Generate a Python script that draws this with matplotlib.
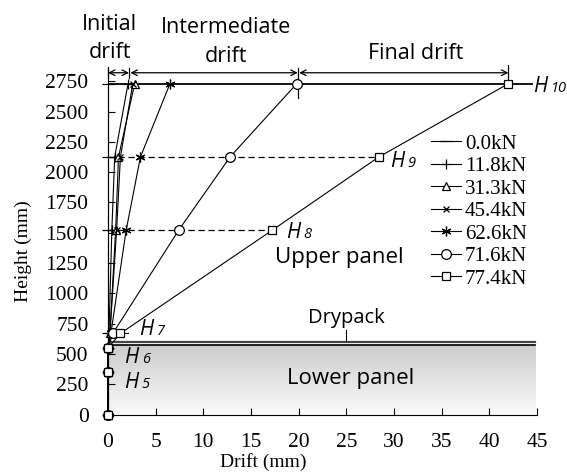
import numpy as np
import matplotlib
matplotlib.use("Agg")
import matplotlib.pyplot as plt

# measured heights of the LVDTs (mm) and drift at each height (mm)
heights = [0, 350, 550, 670, 1520, 2125, 2730]
loads = ['0.0kN', '11.8kN', '31.3kN', '45.4kN', '62.6kN', '71.6kN', '77.4kN']
drift_00 = [0, 0, 0, 0, 0, 0, 0]
drift_118 = [0, 0, 0, 0.1, 0.4, 0.7, 2.1]
drift_313 = [0, 0, 0, 0.2, 0.8, 1.1, 2.8]
drift_454 = [0, 0, 0, 0.2, 0.9, 1.3, 2.6]
drift_626 = [0, 0, 0, 0.3, 1.9, 3.4, 6.5]
drift_716 = [0, 0, 0, 0.5, 7.4, 12.8, 19.8]
drift_774 = [0, 0, 0, 1.3, 17.2, 28.4, 42.0]
all_drifts = [drift_00, drift_118, drift_313, drift_454, drift_626, drift_716, drift_774]
markers = ['_', '+', '^', 'x', (6, 2, 0), 'o', 's']
msizes = [8, 7, 6, 5, 7, 7, 6]

# drift stage boundaries (mm)
stage_edges = [0, 2.2, 19.9, 42.0]

serif = 'Liberation Serif'
sans = 'Open Sans'

fig = plt.figure(figsize=(5.67, 4.73), dpi=100)
ax = fig.add_axes([0.1905, 0.1233, 0.7566, 0.7357])

# lower panel with shading (dark at top, light at bottom)
grad = np.linspace(0.8, 0.98, 100).reshape(-1, 1)
ax.imshow(grad, extent=[0, 44.8, 0, 575], origin='upper', cmap='gray',
          vmin=0, vmax=1, aspect='auto', zorder=0)
ax.plot([0, 44.8], [602, 602], color='#444444', lw=1.6, zorder=1)
ax.plot([0, 44.8], [578, 578], color='black', lw=1.2, zorder=1)
ax.plot([25, 25], [605, 700], color='black', lw=0.8)
ax.text(25, 715, 'Drypack', family=sans, fontsize=14.5, ha='center', va='bottom')
ax.text(25.4, 300, 'Lower panel', family=sans, fontsize=16, ha='center', va='center')
ax.text(24.3, 1300, 'Upper panel', family=sans, fontsize=16, ha='center', va='center')

# helper lines at the LVDT levels
ax.plot([0, 44.5], [heights[6], heights[6]], color='black', lw=1.3, zorder=2)
ax.plot([0, drift_774[5]], [heights[5], heights[5]], color='black', lw=0.9,
        ls=(0, (5, 3)), zorder=2)
ax.plot([0, drift_774[4]], [heights[4], heights[4]], color='black', lw=0.9,
        ls=(0, (5, 3)), zorder=2)
ax.plot([0, 2.1], [heights[3], heights[3]], color='black', lw=0.8, zorder=2)

for d, lab, m, s in zip(all_drifts, loads, markers, msizes):
    ax.plot(d, heights, color='black', lw=0.8, marker=m, markersize=s,
            markerfacecolor='white', markeredgecolor='black', markeredgewidth=0.9,
            label=lab, clip_on=False, zorder=3)

# drift stage arrows
arrow_y = 2820
for i in range(3):
    a = stage_edges[i] + (0.15 if i > 0 else 0)
    b = stage_edges[i + 1]
    ax.annotate('', xy=(a, arrow_y), xytext=(b, arrow_y), annotation_clip=False,
                arrowprops=dict(arrowstyle='<->', lw=0.9, color='black',
                                shrinkA=0, shrinkB=0, mutation_scale=10))
ax.plot([0, 0], [2780, 2860], color='black', lw=0.9, clip_on=False)
ax.plot([2.2, 2.2], [2780, 2860], color='black', lw=0.9, clip_on=False)
ax.plot([19.9, 19.9], [2610, 2860], color='black', lw=0.9, clip_on=False)
ax.plot([42.0, 42.0], [2760, 2880], color='black', lw=0.9, clip_on=False)

ax.text(0.2, 3220, 'Initial', family=sans, fontsize=15.5, ha='center', va='center')
ax.text(0.2, 2990, 'drift', family=sans, fontsize=15.5, ha='center', va='center')
ax.text(12.4, 3195, 'Intermediate', family=sans, fontsize=15.5, ha='center', va='center')
ax.text(12.4, 2950, 'drift', family=sans, fontsize=15.5, ha='center', va='center')
ax.text(32.3, 2975, 'Final drift', family=sans, fontsize=15.5, ha='center', va='center')

# H labels
h_labels = [('5', 1.7, 220), ('6', 1.7, 426), ('7', 3.3, 657),
            ('8', 18.7, 1457), ('9', 29.6, 2042), ('10', 44.6, 2660)]
for n, hx, hy in h_labels:
    ax.text(hx, hy, 'H', family=sans, style='italic', fontsize=15, va='baseline',
            clip_on=False)
    ax.annotate(n, xy=(hx, hy), xytext=(12.5, 0), textcoords='offset points',
                family=sans, style='italic', fontsize=10.5, va='baseline',
                annotation_clip=False)

ax.set_xlim(0, 45)
ax.set_ylim(0, 2870)
ax.set_xticks(np.arange(0, 46, 5))
ax.set_yticks(np.arange(0, 2751, 250))
ax.spines['top'].set_visible(False)
ax.spines['right'].set_visible(False)
ax.tick_params(direction='in', length=5, width=0.8)
ax.tick_params(axis='y', pad=14)
ax.tick_params(axis='x', pad=13)
for t in ax.get_xticklabels() + ax.get_yticklabels():
    t.set_fontfamily(serif)
    t.set_fontsize(15.5)
ax.set_xlabel('Drift (mm)', family=serif, fontsize=14)
ax.set_ylabel('Height (mm)', family=serif, fontsize=14)
ax.xaxis.set_label_coords(0.361, -0.11)
ax.yaxis.set_label_coords(-0.177, 0.47)

ax.legend(loc='upper left', bbox_to_anchor=(0.752, 0.806), frameon=False,
          prop={'family': serif, 'size': 15}, borderpad=0, borderaxespad=0,
          labelspacing=0.14, handlelength=1.45, handletextpad=0.2)

fig.savefig('out.png', dpi=100)
